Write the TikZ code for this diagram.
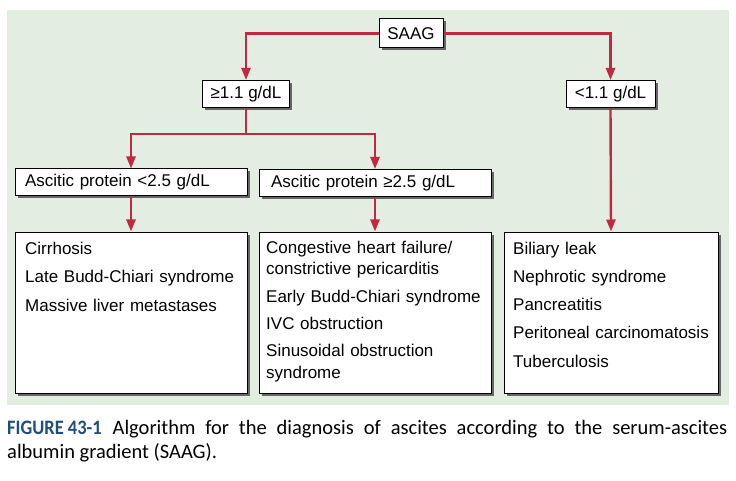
\documentclass[tikz,border=0pt]{standalone}
\usepackage{graphicx}
\usepackage{fontspec}
\setmainfont{Liberation Sans}
\newfontfamily\capfont{Carlito}
\usetikzlibrary{shadows,arrows.meta}
\definecolor{bggreen}{RGB}{227,237,225}
\definecolor{linered}{RGB}{192,42,62}
\definecolor{capblue}{RGB}{30,78,128}
\begin{document}
\begin{tikzpicture}[x=1pt,y=-1pt,
  box/.style={draw=black, line width=1pt, fill=white, rectangle, inner sep=0pt,
    drop shadow={shadow xshift=2.5pt, shadow yshift=-2.5pt, fill=black!60, opacity=1}},
  conn/.style={draw=linered, line width=2.4pt},
  arr/.style={conn, -{Triangle[length=12pt,width=9pt]}},
  lbl/.style={font=\fontsize{17}{21.5}\selectfont},
  listtext/.style={lbl, anchor=base west, inner sep=0pt, text width=240pt, align=left},
  captext/.style={anchor=base west, inner sep=0pt, font=\capfont\fontsize{20.5}{24}\selectfont}
]
\useasboundingbox (0,0) rectangle (736,481);
\fill[white] (0,0) rectangle (736,481);
\fill[bggreen] (7,10) rectangle (729,405);

% top level
\node[box, lbl, minimum width=64pt, minimum height=29pt] (saag) at (411,33.5) {SAAG};
\node[box, lbl, minimum width=87pt, minimum height=27pt] (ge) at (246,94) {≥1.1 g/dL};
\node[box, lbl, minimum width=89pt, minimum height=27pt] (lt) at (610.5,94) {<1.1 g/dL};

% ascitic protein
\node[box, lbl, minimum height=27pt, text width=212pt, inner xsep=10pt, align=left] (pl) at (131,182.5) {Ascitic protein <2.5 g/dL};
\node[box, lbl, minimum height=27pt, text width=208pt, inner xsep=12pt, align=left] (pg) at (375,183) {Ascitic protein ≥2.5 g/dL};

% result boxes
\node[box, minimum width=232pt, minimum height=161pt] (bl) at (131,312.5) {};
\node[box, minimum width=232pt, minimum height=161pt] (bm) at (375,312.5) {};
\node[box, minimum width=214pt, minimum height=161pt] (br) at (611,312.5) {};

\node[listtext] (tl) at (25,254) {Cirrhosis\\[7pt]Late Budd-Chiari syndrome\\[7pt]Massive liver metastases};
\node[listtext] (tm) at (266,253) {Congestive heart failure/\\constrictive pericarditis\\[6pt]Early Budd-Chiari syndrome\\[6pt]IVC obstruction\\[6pt]Sinusoidal obstruction\\syndrome};
\node[listtext] (tr) at (513,254) {Biliary leak\\[6.75pt]Nephrotic syndrome\\[6.75pt]Pancreatitis\\[6.75pt]Peritoneal carcinomatosis\\[6.75pt]Tuberculosis};

% connectors
\coordinate (split) at (246,134);
\draw[arr] (saag.west) -| (ge.north);
\draw[arr] (saag.east) -| (lt.north);
\draw[conn] (ge.south) -- (split);
\draw[arr] (split) -| (pl.north);
\draw[arr] (split) -| (pg.north);
\draw[arr] (pl.south) -- (bl.north);
\draw[arr] (pg.south) -- (bm.north);
\draw[arr] (lt.south) -- (br.north);

% caption
\node[captext] (cap1) at (7,434) {\makebox[720pt][s]{\textcolor{capblue}{\scalebox{0.9}[1]{\bfseries FIGURE 43-1}}\hspace{11pt}Algorithm for the diagnosis of ascites according to the serum-ascites}};
\node[captext] (cap2) at (7,458) {albumin gradient (SAAG).};
\end{tikzpicture}
\end{document}
